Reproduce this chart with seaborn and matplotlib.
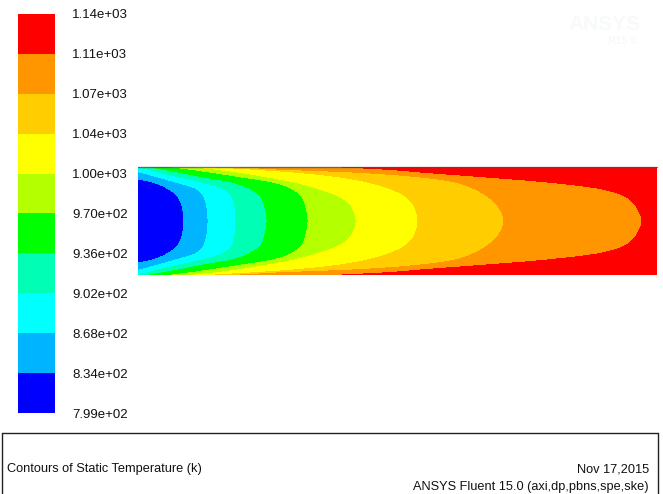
import numpy as np
import matplotlib
matplotlib.use("Agg")
import matplotlib.pyplot as plt
from matplotlib.colors import ListedColormap, BoundaryNorm
from matplotlib.lines import Line2D
import seaborn as sns

# ---------------- data ----------------
LEVELS = [799.4, 833.6, 867.8, 902.0, 936.2, 970.4, 1004.6, 1038.8, 1073.0, 1107.2, 1141.4]
LEVEL_LABELS = ["7.99e+02", "8.34e+02", "8.68e+02", "9.02e+02", "9.36e+02", "9.70e+02",
                "1.00e+03", "1.04e+03", "1.07e+03", "1.11e+03", "1.14e+03"]
BAND_COLORS = ["#0000ff", "#00b4ff", "#00ffff", "#00ffb4", "#00ff00",
               "#b4ff00", "#ffff00", "#ffcd00", "#ff9600", "#ff0000"]

PIPE_LENGTH = 519.0   # axial extent of the domain (picture units)
PIPE_RADIUS = 54.0

# axial position of each iso-temperature boundary at fractional radius R_FRAC
R_FRAC = [0.0, 0.25, 0.45, 0.60, 0.72, 0.82, 0.90, 0.96, 1.00]
ISO_834 = [46, 44.5, 40, 30, 15, -16, -58, -108, -138]
ISO_868 = [70, 69, 66, 58, 38, 19, 3, -13, -38]
ISO_902 = [98, 97, 94, 85, 65, 40, 22, 10, 0]
ISO_936 = [129, 127, 123, 112, 94, 64, 42, 24, 12]
ISO_970 = [170, 168, 164, 154, 135, 102, 74, 52, 34]
ISO_1005 = [218, 214, 202, 180, 156, 127, 102, 77, 57]
ISO_1039 = [280, 277, 268, 252, 230, 200, 160, 115, 77]
ISO_1073 = [366, 361, 350, 336, 318, 280, 222, 140, 102]
ISO_1107 = [504, 499, 488, 462, 410, 344, 287, 247, 204]
ISOLINES = [ISO_834, ISO_868, ISO_902, ISO_936, ISO_970,
            ISO_1005, ISO_1039, ISO_1073, ISO_1107]

TITLE_LEFT = "Contours of Static Temperature (k)"
DATE_TEXT = "Nov 17,2015"
SOLVER_TEXT = "ANSYS Fluent 15.0 (axi,dp,pbns,spe,ske)"


# ---------------- smooth (monotone cubic) interpolation of the readings ----------------
def pchip(xk, yk, x):
    xk = np.asarray(xk, float)
    yk = np.asarray(yk, float)
    h = np.diff(xk)
    delta = np.diff(yk) / h
    n = len(xk)
    d = np.zeros(n)
    for k in range(1, n - 1):
        if delta[k - 1] * delta[k] > 0:
            w1 = 2 * h[k] + h[k - 1]
            w2 = h[k] + 2 * h[k - 1]
            d[k] = (w1 + w2) / (w1 / delta[k - 1] + w2 / delta[k])
    d[0] = 0.0                      # symmetry at the axis
    d[-1] = delta[-1]
    x = np.atleast_1d(np.asarray(x, float))
    idx = np.clip(np.searchsorted(xk, x) - 1, 0, n - 2)
    t = (x - xk[idx]) / h[idx]
    h00 = 2 * t**3 - 3 * t**2 + 1
    h10 = t**3 - 2 * t**2 + t
    h01 = -2 * t**3 + 3 * t**2
    h11 = t**3 - t**2
    return (h00 * yk[idx] + h10 * h[idx] * d[idx]
            + h01 * yk[idx + 1] + h11 * h[idx] * d[idx + 1])


# ---------------- build field from the iso-line readings ----------------
nx, ny = 900, 261
xs = np.linspace(0, PIPE_LENGTH, nx)
rs = np.linspace(-1, 1, ny)
iso_at_r = np.array([pchip(R_FRAC, iso, np.abs(rs)) for iso in ISOLINES])  # (9, ny)
T = np.empty((ny, nx))
for j in range(ny):
    bx = list(np.maximum.accumulate(iso_at_r[:, j]))
    xp = [bx[0] - 80] + bx + [bx[-1] + 120]
    xp = np.maximum.accumulate(np.array(xp) + np.arange(len(xp)) * 1e-6)
    T[j, :] = np.interp(xs, xp, LEVELS)
T = np.clip(T, LEVELS[0] + 0.01, LEVELS[-1] - 0.01)

# ---------------- figure ----------------
sns.set_theme(style="white")
plt.rcParams["font.family"] = ["Liberation Sans", "DejaVu Sans"]

W, H = 663, 494
fig = plt.figure(figsize=(W / 100, H / 100), dpi=100, facecolor="white")


def fx(px):
    return px / W


def fy(py):
    return 1 - py / H


# contour domain
ax = fig.add_axes([fx(138), fy(275), (657 - 138) / W, (275 - 167) / H])
ax.contourf(xs, rs * PIPE_RADIUS, T, levels=LEVELS, colors=BAND_COLORS, antialiased=False)
ax.set_xlim(0, PIPE_LENGTH)
ax.set_ylim(-PIPE_RADIUS, PIPE_RADIUS)
ax.axhline(PIPE_RADIUS, color="#505050", lw=1.0, alpha=0.75, clip_on=False)
ax.set_axis_off()

# colour bar built with seaborn
ax_cb = fig.add_axes([fx(18), fy(413), (55 - 18) / W, (413 - 14) / H])
mids = [(LEVELS[i] + LEVELS[i + 1]) / 2 for i in range(len(LEVELS) - 1)]
cb_data = np.array(mids[::-1]).reshape(-1, 1)
sns.heatmap(cb_data, ax=ax_cb, cmap=ListedColormap(BAND_COLORS),
            norm=BoundaryNorm(LEVELS, len(BAND_COLORS)),
            cbar=False, xticklabels=False, yticklabels=False, linewidths=0)
ax_cb.set_yticks(range(len(LEVELS)))
ax_cb.set_yticklabels(LEVEL_LABELS[::-1])
ax_cb.yaxis.tick_right()
ax_cb.tick_params(axis="y", length=0, pad=12.5, labelsize=9.5, labelcolor="#111111")
ax_cb.set_xticks([])
for s in ax_cb.spines.values():
    s.set_visible(False)

# faint watermark
fig.text(fx(605), fy(24), "ANSYS", ha="center", va="center", fontsize=15,
         fontweight="bold", color="#f8f9fa")
fig.text(fx(622), fy(41), "R15.0", ha="center", va="center", fontsize=8,
         fontweight="bold", color="#f8f9fa")

# footer box
lc = "#222222"
fig.add_artist(Line2D([fx(1.5), fx(658)], [fy(433), fy(433)], transform=fig.transFigure, color=lc, lw=1))
fig.add_artist(Line2D([fx(1.5), fx(1.5)], [fy(433), fy(494)], transform=fig.transFigure, color=lc, lw=1))
fig.add_artist(Line2D([fx(658), fx(658)], [fy(433), fy(494)], transform=fig.transFigure, color=lc, lw=1))

fig.text(fx(7), fy(472), TITLE_LEFT, ha="left", va="baseline", fontsize=9.2, color="#111111")
fig.text(fx(649), fy(472), DATE_TEXT, ha="right", va="baseline", fontsize=9.2, color="#111111")
fig.text(fx(649), fy(489.5), SOLVER_TEXT, ha="right", va="baseline", fontsize=9.2, color="#111111")

fig.savefig("out.png", dpi=100, facecolor="white")
